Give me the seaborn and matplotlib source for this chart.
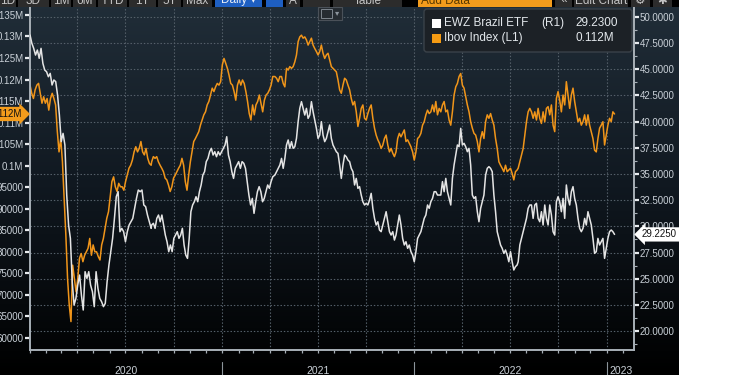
import numpy as np
import pandas as pd
import matplotlib
matplotlib.use("Agg")
import matplotlib.pyplot as plt
import matplotlib.dates as mdates
import matplotlib.transforms as mtransforms
from matplotlib.lines import Line2D
from matplotlib.patches import Rectangle, FancyBboxPatch
from matplotlib.colors import LinearSegmentedColormap
from matplotlib.ticker import MultipleLocator
import seaborn as sns

sns.set_theme(style="ticks")
plt.rcParams['font.family'] = ['Liberation Sans', 'DejaVu Sans']

# ---------------- data ----------------
SEGMENTS = [("2020-01-02", "2020-08-19"), ("2020-08-20", "2021-04-07"),
            ("2021-04-11", "2021-11-24"), ("2021-11-27", "2022-07-15"),
            ("2022-07-17", "2023-01-16")]

ewz_p1 = [48.27, 47.48, 47.00, 46.36, 46.84, 46.05, 47.00, 45.57, 44.93, 44.77,
          44.29, 44.61, 43.50, 43.98, 43.82, 42.54, 40.63, 38.09, 38.88, 37.77,
          32.99, 30.13, 28.85, 24.71, 22.48, 23.12, 24.39, 25.35, 23.44, 22.01,
          25.67, 25.03, 25.67, 24.39, 23.76, 22.33, 25.67, 24.08, 23.12, 22.80,
          22.33, 22.64, 24.71, 26.31, 27.58, 28.85, 30.76, 32.83, 33.31, 29.49,
          29.81, 29.49, 28.53, 29.49, 30.13, 30.44, 30.76, 31.72, 32.67, 33.47,
          33.31, 33.47, 32.04, 31.88, 31.08, 30.44, 29.81]
ewz_p2 = [30.13, 30.29, 29.81, 30.76, 31.08, 30.44, 31.08, 30.13, 29.17, 28.53,
          27.58, 28.22, 27.58, 28.85, 29.17, 29.49, 28.85, 29.17, 29.81, 28.22,
          27.26, 26.94, 28.85, 31.40, 32.04, 32.35, 32.83, 32.35, 33.31, 33.95,
          34.90, 35.22, 36.18, 36.49, 37.13, 37.45, 36.81, 37.13, 36.65, 37.13,
          36.81, 37.13, 37.45, 37.77, 38.56, 36.81, 36.18, 35.22, 34.58, 35.54,
          35.86, 36.18, 35.54, 36.18, 36.02, 35.54, 34.27, 32.99, 32.04, 32.67,
          31.24, 32.35, 33.31, 33.79, 33.31, 32.35, 32.67, 33.31, 33.95, 33.63,
          34.27, 34.74]
ewz_p3 = [34.90, 35.22, 35.54, 35.86, 36.49, 35.54, 36.49, 37.77, 38.25, 37.45,
          38.09, 37.45, 37.61, 38.40, 40.00, 41.27, 41.91, 41.27, 40.63, 41.27,
          40.31, 40.63, 41.91, 40.95, 40.16, 39.36, 38.40, 38.72, 40.00, 38.72,
          38.09, 38.40, 39.04, 39.68, 38.40, 37.77, 37.45, 37.13, 36.97, 35.86,
          34.58, 35.86, 36.81, 36.65, 36.33, 36.18, 35.54, 35.22, 33.95, 34.58,
          33.63, 33.79, 32.99, 32.35, 32.04, 32.20, 32.04, 32.51, 33.15, 31.72,
          30.76, 30.13, 30.44, 29.65, 29.49, 30.13, 30.76, 31.40, 30.44, 29.49,
          29.17, 29.49, 28.69]
ewz_p4 = [29.17, 30.13, 31.08, 30.13, 28.85, 28.22, 28.53, 27.90, 28.22, 27.58,
          27.26, 26.62, 27.58, 28.85, 29.17, 29.49, 30.13, 30.76, 31.08, 32.04,
          31.72, 32.35, 32.67, 33.31, 33.31, 32.99, 32.99, 32.99, 34.27, 33.31,
          34.58, 33.31, 32.67, 32.04, 34.58, 35.86, 36.81, 37.77, 37.61, 39.36,
          37.77, 37.93, 37.61, 37.13, 37.45, 35.86, 32.99, 32.67, 32.83, 31.40,
          30.44, 31.72, 32.35, 32.99, 34.90, 35.54, 35.70, 35.54, 35.22, 32.99,
          31.40, 29.49, 28.85, 28.22, 27.90, 27.42, 27.74, 27.26, 26.62, 27.58,
          26.62, 25.83, 26.15, 26.31]
ewz_p5 = [26.62, 28.22, 28.85, 29.49, 30.13, 30.76, 31.72, 32.04, 32.04, 30.76,
          32.04, 32.20, 30.76, 30.44, 31.40, 30.13, 32.04, 30.76, 30.13, 32.04,
          31.08, 29.49, 29.17, 32.35, 32.83, 32.35, 31.40, 32.67, 30.76, 33.95,
          32.67, 32.04, 33.31, 33.79, 32.67, 32.04, 30.76, 29.81, 29.49, 29.81,
          30.76, 30.13, 31.40, 30.76, 30.13, 28.85, 27.42, 27.58, 28.85, 28.22,
          28.53, 28.85, 26.94, 27.90, 28.85, 29.49, 29.65, 29.49, 29.23]

# Ibovespa, in thousands of points
ibov_p1 = [118.7, 116.8, 115.6, 117.6, 118.7, 119.1, 116.8, 114.5, 116.0, 114.5,
           115.6, 112.9, 115.6, 116.8, 115.6, 114.1, 107.9, 103.2, 106.3, 100.9,
           92.4, 83.9, 73.8, 67.6, 63.8, 76.9, 73.8, 70.7, 73.8, 78.5,
           79.6, 77.7, 79.2, 80.0, 80.8, 83.1, 79.2, 81.6, 80.0, 80.0,
           78.9, 78.1, 81.6, 83.1, 85.4, 87.8, 89.3, 92.8, 96.3, 97.4,
           95.1, 94.0, 95.9, 95.1, 95.1, 94.3, 96.3, 97.8, 99.4, 100.1,
           101.3, 103.2, 104.4, 103.2, 104.0, 105.6, 103.2, 102.5, 104.0, 101.7,
           100.5, 100.1]
ibov_p2 = [100.9, 102.1, 101.7, 102.1, 100.9, 100.1, 99.4, 98.6, 97.1, 96.7,
           95.5, 94.0, 95.1, 97.1, 97.8, 98.6, 99.4, 100.1, 101.7, 100.1,
           96.3, 94.3, 97.8, 100.9, 103.2, 105.6, 106.3, 107.1, 107.9, 109.4,
           110.6, 111.8, 112.5, 114.1, 114.9, 116.4, 118.0, 117.2, 118.3, 119.1,
           118.7, 119.5, 123.4, 124.9, 123.8, 122.6, 121.0, 119.1, 118.7, 117.2,
           115.2, 118.7, 119.9, 118.7, 119.9, 119.1, 117.2, 114.9, 112.1, 110.6,
           114.1, 111.8, 114.1, 114.9, 116.4, 114.5, 112.5, 115.2, 116.4, 116.8,
           117.6, 118.7, 120.7]
ibov_p3 = [120.7, 120.3, 119.5, 120.7, 120.7, 119.1, 118.3, 122.6, 122.2, 123.0,
           122.6, 123.0, 124.1, 125.7, 128.8, 129.9, 130.3, 129.6, 129.9, 129.2,
           128.0, 128.8, 129.6, 128.0, 127.2, 126.5, 125.7, 126.5, 128.0, 126.1,
           124.9, 125.7, 126.1, 124.5, 123.0, 122.6, 122.2, 121.8, 119.9, 117.6,
           116.8, 118.7, 120.3, 119.9, 118.7, 117.6, 115.6, 114.1, 114.9, 112.5,
           109.1, 111.0, 113.3, 114.1, 111.0, 110.6, 112.1, 113.3, 114.1, 111.0,
           108.7, 107.1, 106.0, 105.2, 104.0, 104.8, 106.3, 107.1, 104.8, 103.2,
           104.0, 102.9, 102.1]
ibov_p4 = [103.2, 106.3, 107.5, 106.7, 107.5, 108.3, 105.6, 106.0, 105.2, 104.4,
           103.2, 101.3, 103.2, 106.3, 106.7, 107.5, 109.4, 110.2, 111.8, 112.9,
           112.1, 112.5, 114.1, 112.5, 114.9, 111.8, 113.3, 112.5, 114.1, 114.9,
           112.5, 112.9, 110.6, 109.4, 112.5, 116.4, 118.3, 119.1, 120.7, 121.4,
           118.7, 118.0, 116.0, 114.1, 112.5, 110.2, 108.7, 107.5, 107.1, 105.6,
           103.2, 106.3, 107.9, 106.3, 110.2, 111.8, 111.0, 112.1, 110.6, 109.4,
           106.3, 104.0, 100.9, 100.1, 99.4, 98.6, 100.1, 98.6, 99.0, 99.4,
           98.2, 96.7, 98.6, 99.0]
ibov_p5 = [99.4, 100.9, 102.5, 104.0, 107.1, 110.2, 112.5, 113.3, 112.5, 111.0,
           112.5, 110.6, 113.3, 111.0, 109.8, 112.5, 110.2, 113.3, 113.7, 111.8,
           114.1, 109.4, 107.9, 115.6, 117.2, 115.2, 112.5, 116.4, 114.1, 119.5,
           116.4, 113.3, 116.4, 118.0, 114.9, 112.5, 110.2, 111.0, 109.4, 110.2,
           111.8, 109.4, 111.8, 109.4, 107.9, 106.3, 103.6, 103.2, 106.3, 108.7,
           109.4, 110.2, 104.8, 107.1, 109.4, 111.0, 110.2, 112.5, 112.0]

ibov_ticks = [60, 65, 70, 75, 80, 85, 90, 95, 100, 105, 110, 115, 120, 125, 130, 135]
ibov_labels = ["60000", "65000", "70000", "75000", "80000", "85000", "90000", "95000",
               "0.1M", "0.105M", "0.11M", "0.115M", "0.12M", "0.125M", "0.13M", "0.135M"]
ewz_ticks = [20.0, 22.5, 25.0, 27.5, 30.0, 32.5, 35.0, 37.5, 40.0, 42.5, 45.0, 47.5, 50.0]
year_labels = ["2020", "2021", "2022", "2023"]
year_centers = ["2020-07-02", "2021-07-02", "2022-07-02", "2023-01-28"]
year_bounds = ["2021-01-01", "2022-01-01", "2023-01-01"]
legend_rows = [("EWZ Brazil ETF", "(R1)", "29.2300"), ("Ibov Index (L1)", "", "0.112M")]
ewz_tag, ibov_tag = "29.2250", "0.112M"

ORANGE = "#f0951a"
WHITE = "#e4e4e4"


def build(parts):
    frames = [pd.DataFrame({"date": pd.date_range(s, e, periods=len(v)), "value": v})
              for (s, e), v in zip(SEGMENTS, parts)]
    return pd.concat(frames, ignore_index=True)


ewz = build([ewz_p1, ewz_p2, ewz_p3, ewz_p4, ewz_p5])
ibov = build([ibov_p1, ibov_p2, ibov_p3, ibov_p4, ibov_p5])

# ---------------- figure ----------------
W, H = 750, 375
fig = plt.figure(figsize=(7.5, 3.75), dpi=100)
fig.patch.set_facecolor("white")


def fx(x):
    return x / W


def fy(y):
    return 1 - y / H


# dark panel with vertical gradient
bg = fig.add_axes([0, 0, fx(679), 1])
cmap = LinearSegmentedColormap.from_list("bb", ["#212e39", "#101820", "#000000"])
bg.imshow(np.linspace(0, 1, 256).reshape(-1, 1), aspect="auto", cmap=cmap,
          extent=[0, 1, 0, 1], origin="upper", interpolation="bilinear")
bg.set_axis_off()

pos = [fx(29.5), fy(350), fx(633.5) - fx(29.5), (350 - 7) / H]
x0, x1 = pd.Timestamp("2020-01-01"), pd.Timestamp("2023-02-21")
ibov_lim = (57.2, 136.84)
ewz_lim = (18.19, 50.95)

# grid axes
axg = fig.add_axes(pos)
axg.patch.set_alpha(0)
axg.set_xlim(mdates.date2num(x0), mdates.date2num(x1))
axg.set_ylim(*ewz_lim)
axg.set_xticks(mdates.date2num(pd.date_range("2020-04-01", "2023-01-01", freq="QS")))
axg.set_yticks(ewz_ticks)
axg.grid(True, color="#55606a", linestyle=(0, (1.3, 1.7)), linewidth=0.8)
axg.tick_params(length=0, labelbottom=False, labelleft=False)
for s in axg.spines.values():
    s.set_visible(False)

# data axes
ax = fig.add_axes(pos)
ax.patch.set_alpha(0)
sns.lineplot(data=ibov, x="date", y="value", ax=ax, color=ORANGE, linewidth=1.1,
             estimator=None)
ax2 = ax.twinx()
ax2.patch.set_alpha(0)
sns.lineplot(data=ewz, x="date", y="value", ax=ax2, color=WHITE, linewidth=1.1,
             estimator=None)

ax.set_xlim(x0, x1)
ax.set_ylim(*ibov_lim)
ax2.set_ylim(*ewz_lim)
for a in (ax, ax2):
    a.set_xlabel("")
    a.set_ylabel("")

LBL = "#c9d0d7"
SPINE = "#a8b0b7"
ax.set_yticks(ibov_ticks)
ax.set_yticklabels(ibov_labels)
ax.tick_params(axis="y", left=True, length=3.5, width=1.6, color="#e8ebee",
               labelcolor=LBL, labelsize=7, pad=1)
ax.xaxis.set_major_locator(mdates.MonthLocator())
ax.tick_params(axis="x", bottom=True, length=2.5, width=0.9, color=SPINE,
               labelbottom=False)
ax2.set_yticks(ewz_ticks)
ax2.set_yticklabels([f"{v:.4f}" for v in ewz_ticks])
ax2.yaxis.set_minor_locator(MultipleLocator(1.25))
ax2.tick_params(axis="y", which="major", right=True, left=False, length=3.5, width=1.6,
                color="#e8ebee", labelcolor=LBL, labelsize=7, pad=1)
ax2.tick_params(axis="y", which="minor", right=True, left=False, length=2, width=0.8,
                color=SPINE)

for name, s in ax.spines.items():
    s.set_visible(name in ("left", "bottom"))
    s.set_color(SPINE)
    s.set_linewidth(1.4)
for name, s in ax2.spines.items():
    s.set_visible(name == "right")
    s.set_color(SPINE)
    s.set_linewidth(1.4)

# year labels and separators under the axis
blend_x = mtransforms.blended_transform_factory(ax.transData, ax.transAxes)
for lab, c in zip(year_labels, year_centers):
    ax.text(mdates.date2num(pd.Timestamp(c)), -0.06, lab, transform=blend_x,
            ha="center", va="center", fontsize=7.5, color=LBL, clip_on=False)
for b in year_bounds:
    d = mdates.date2num(pd.Timestamp(b))
    ax.add_artist(Line2D([d, d], [-0.035, -0.08], transform=blend_x, color="#8c949b",
                         linewidth=0.8, clip_on=False))

# last-value tags
blend_l = mtransforms.blended_transform_factory(ax.transAxes, ax.transData)
ax.text(-0.012, ibov_p5[-1], ibov_tag, transform=blend_l, ha="right", va="center",
        fontsize=7, color="#111111", clip_on=False, zorder=10,
        bbox=dict(boxstyle="rarrow,pad=0.22", fc="#f39c1c", ec="none"))
blend_r = mtransforms.blended_transform_factory(ax2.transAxes, ax2.transData)
ax2.text(1.014, ewz_p5[-1], ewz_tag, transform=blend_r, ha="left", va="center",
         fontsize=7, color="#111111", clip_on=False, zorder=10,
         bbox=dict(boxstyle="larrow,pad=0.22", fc="white", ec="none"))

# legend box
inch = fig.dpi_scale_trans
fig.add_artist(FancyBboxPatch((424 / 100, (375 - 52) / 100), 2.08, 0.43,
                              boxstyle="round,pad=0,rounding_size=0.03",
                              transform=inch, fc="#1c2126", ec="#3a4249", lw=1,
                              zorder=20))
for i, ((name, ref, val), col) in enumerate(zip(legend_rows, ["#ffffff", "#f59b13"])):
    yc = 23.3 + i * 15
    fig.add_artist(Rectangle((432 / 100, (375 - yc - 4.5) / 100), 0.09, 0.09,
                             transform=inch, fc=col, ec="none", zorder=21))
    fig.text(fx(444), fy(yc), name, ha="left", va="center", fontsize=8.5,
             color="#e3e8ec", zorder=22)
    if ref:
        fig.text(fx(541), fy(yc), ref, ha="left", va="center", fontsize=8.5,
                 color="#e3e8ec", zorder=22)
    fig.text(fx(575), fy(yc), val, ha="left", va="center", fontsize=8.5,
             color="#e3e8ec", zorder=22)

# top toolbar (cut off by the screenshot)
fig.add_artist(Rectangle((0, fy(7)), fx(679), 7 / H, transform=fig.transFigure,
                         fc="#000000", ec="none", zorder=30))
toolbar = [("1D", 0, 16, "#2c2c2c", "#c4c4c4"), ("3D", 18, 49, "#2c2c2c", "#c4c4c4"),
           ("1M", 51, 71, "#2c2c2c", "#c4c4c4"), ("6M", 73, 96, "#2c2c2c", "#c4c4c4"),
           ("YTD", 98, 127, "#2c2c2c", "#c4c4c4"), ("1Y", 129, 156, "#2c2c2c", "#c4c4c4"),
           ("5Y", 158, 181, "#2c2c2c", "#c4c4c4"), ("Max", 183, 212, "#2c2c2c", "#c4c4c4"),
           ("Daily \u25be", 215, 262, "#1e5fc2", "#e8eef8"), ("", 266, 283, "#1e5fc2", "#e8eef8"),
           ("A", 286, 300, "#2c2c2c", "#c4c4c4"), ("", 303, 330, "#2c2c2c", "#c4c4c4"),
           ("Table", 333, 402, "#2c2c2c", "#c4c4c4"), ("Add Data", 418, 552, "#f39c1c", "#5a3a00"),
           ("\u00ab", 555, 572, "#2c2c2c", "#c4c4c4"), ("Edit Chart", 574, 628, "#2c2c2c", "#c4c4c4"),
           ("\u2699", 631, 650, "#2c2c2c", "#c4c4c4"), ("\u2731", 653, 672, "#2c2c2c", "#c4c4c4")]
for lab, a, b, fc, tc in toolbar:
    fig.add_artist(Rectangle((fx(a), fy(6.5)), fx(b) - fx(a), 6.5 / H,
                             transform=fig.transFigure, fc=fc, ec="none", zorder=31))
    if lab:
        if lab == "Add Data":
            fig.text(fx(a + 3), fy(0.5), lab, ha="left", va="center", fontsize=8.5,
                     color=tc, zorder=32)
        else:
            fig.text(fx((a + b) / 2), fy(0.5), lab, ha="center", va="center",
                     fontsize=8.5, color=tc, zorder=32)

# small chart-type icon
fig.add_artist(Rectangle((fx(318), fy(20)), fx(342) - fx(318), 13 / H,
                         transform=fig.transFigure, fc="#252b31", ec="#4a5159",
                         lw=0.8, zorder=25))
fig.add_artist(Rectangle((fx(320.5), fy(17.5)), fx(332) - fx(320.5), 8.5 / H,
                         transform=fig.transFigure, fc="none", ec="#7d858d",
                         lw=0.7, zorder=26))
fig.text(fx(337), fy(13.5), "\u25be", ha="center", va="center", fontsize=6,
         color="#8d959d", zorder=26)

fig.savefig("out.png", dpi=100, facecolor=fig.get_facecolor())
